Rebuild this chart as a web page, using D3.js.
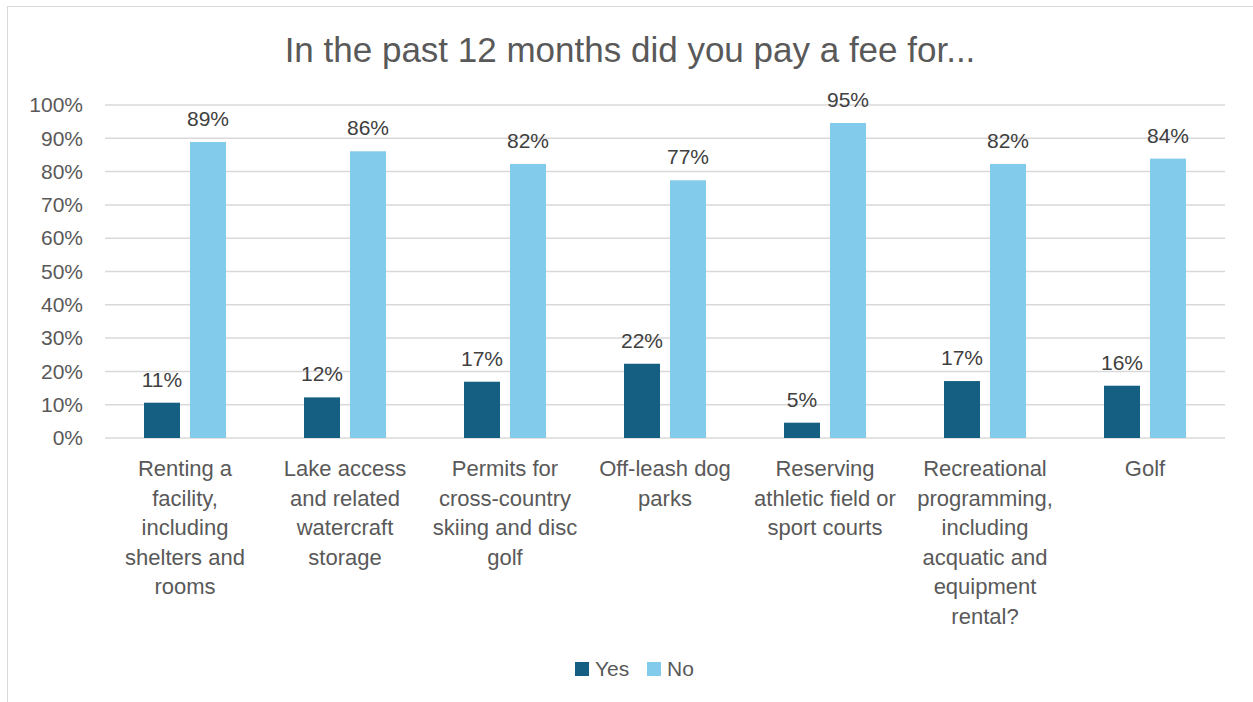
<!DOCTYPE html>
<html><head><meta charset="utf-8">
<script src="https://cdn.jsdelivr.net/npm/d3@7"></script>
<style>body{margin:0;background:#fff}svg{display:block;font-family:"Liberation Sans",Arial,sans-serif}</style>
</head><body><svg id="c" width="1253" height="702"></svg>
<script>
const categories = [
  ["Renting a","facility,","including","shelters and","rooms"],
  ["Lake access","and related","watercraft","storage"],
  ["Permits for","cross-country","skiing and disc","golf"],
  ["Off-leash dog","parks"],
  ["Reserving","athletic field or","sport courts"],
  ["Recreational","programming,","including","acquatic and","equipment","rental?"],
  ["Golf"]
];
const yesValues = [0.106, 0.122, 0.169, 0.223, 0.046, 0.171, 0.157];
const noValues  = [0.889, 0.861, 0.823, 0.774, 0.946, 0.823, 0.839];
const yTicks = [0,0.1,0.2,0.3,0.4,0.5,0.6,0.7,0.8,0.9,1.0];
const seriesNames = ["Yes","No"];
const colors = ["#156082","#83CBEB"];

const svg = d3.select("#c");
svg.append("rect").attr("x",7.5).attr("y",6.5).attr("width",1260).attr("height",720)
  .attr("fill","none").attr("stroke","#d9d9d9").attr("stroke-width",1);

svg.append("text").attr("x",630).attr("y",62).attr("text-anchor","middle")
  .attr("font-size",35).attr("fill","#595959").text("In the past 12 months did you pay a fee for...");

const pLeft=105, pRight=1225, pTop=105, pBottom=438;
const x = d3.scaleBand().domain(d3.range(categories.length)).range([pLeft,pRight]);
const y = d3.scaleLinear().domain([0,1]).range([pBottom,pTop]);
const bw = 36, gap = 10;

svg.append("g").selectAll("line").data(yTicks).join("line")
  .attr("x1",pLeft).attr("x2",pRight).attr("y1",d=>y(d)).attr("y2",d=>y(d))
  .attr("stroke","#d9d9d9").attr("stroke-width",1.5);

const yAxis = svg.append("g").attr("transform",`translate(${pLeft},0)`)
  .call(d3.axisLeft(y).tickValues(yTicks).tickFormat(d3.format(".0%")).tickSize(0).tickPadding(22));
yAxis.select(".domain").remove();
yAxis.selectAll("text").attr("font-size",21).attr("fill","#595959").attr("font-family","Liberation Sans, Arial, sans-serif");

const series = [yesValues, noValues];
series.forEach((vals,si)=>{
  const off = si===0 ? -gap/2-bw : gap/2;
  const gg = svg.append("g");
  gg.selectAll("rect").data(vals).join("rect")
    .attr("x",(d,i)=>x(i)+x.bandwidth()/2+off).attr("width",bw)
    .attr("y",d=>y(d)).attr("height",d=>pBottom-y(d)).attr("fill",colors[si]);
  gg.selectAll("text").data(vals).join("text")
    .attr("x",(d,i)=>x(i)+x.bandwidth()/2+off+bw/2).attr("y",d=>y(d)-16)
    .attr("text-anchor","middle").attr("font-size",21).attr("fill","#404040")
    .text(d=>d3.format(".0%")(d));
});

categories.forEach((lines,i)=>{
  const t = svg.append("text").attr("text-anchor","middle").attr("font-size",22).attr("fill","#595959");
  lines.forEach((ln,j)=>{
    t.append("tspan").attr("x",x(i)+x.bandwidth()/2).attr("y",476+j*29.5).text(ln);
  });
});

const lg = svg.append("g");
const lx = [575,647];
seriesNames.forEach((n,i)=>{
  lg.append("rect").attr("x",lx[i]).attr("y",662).attr("width",14).attr("height",14).attr("fill",colors[i]);
  lg.append("text").attr("x",lx[i]+20).attr("y",676).attr("font-size",21).attr("fill","#595959").text(n);
});
</script></body></html>
